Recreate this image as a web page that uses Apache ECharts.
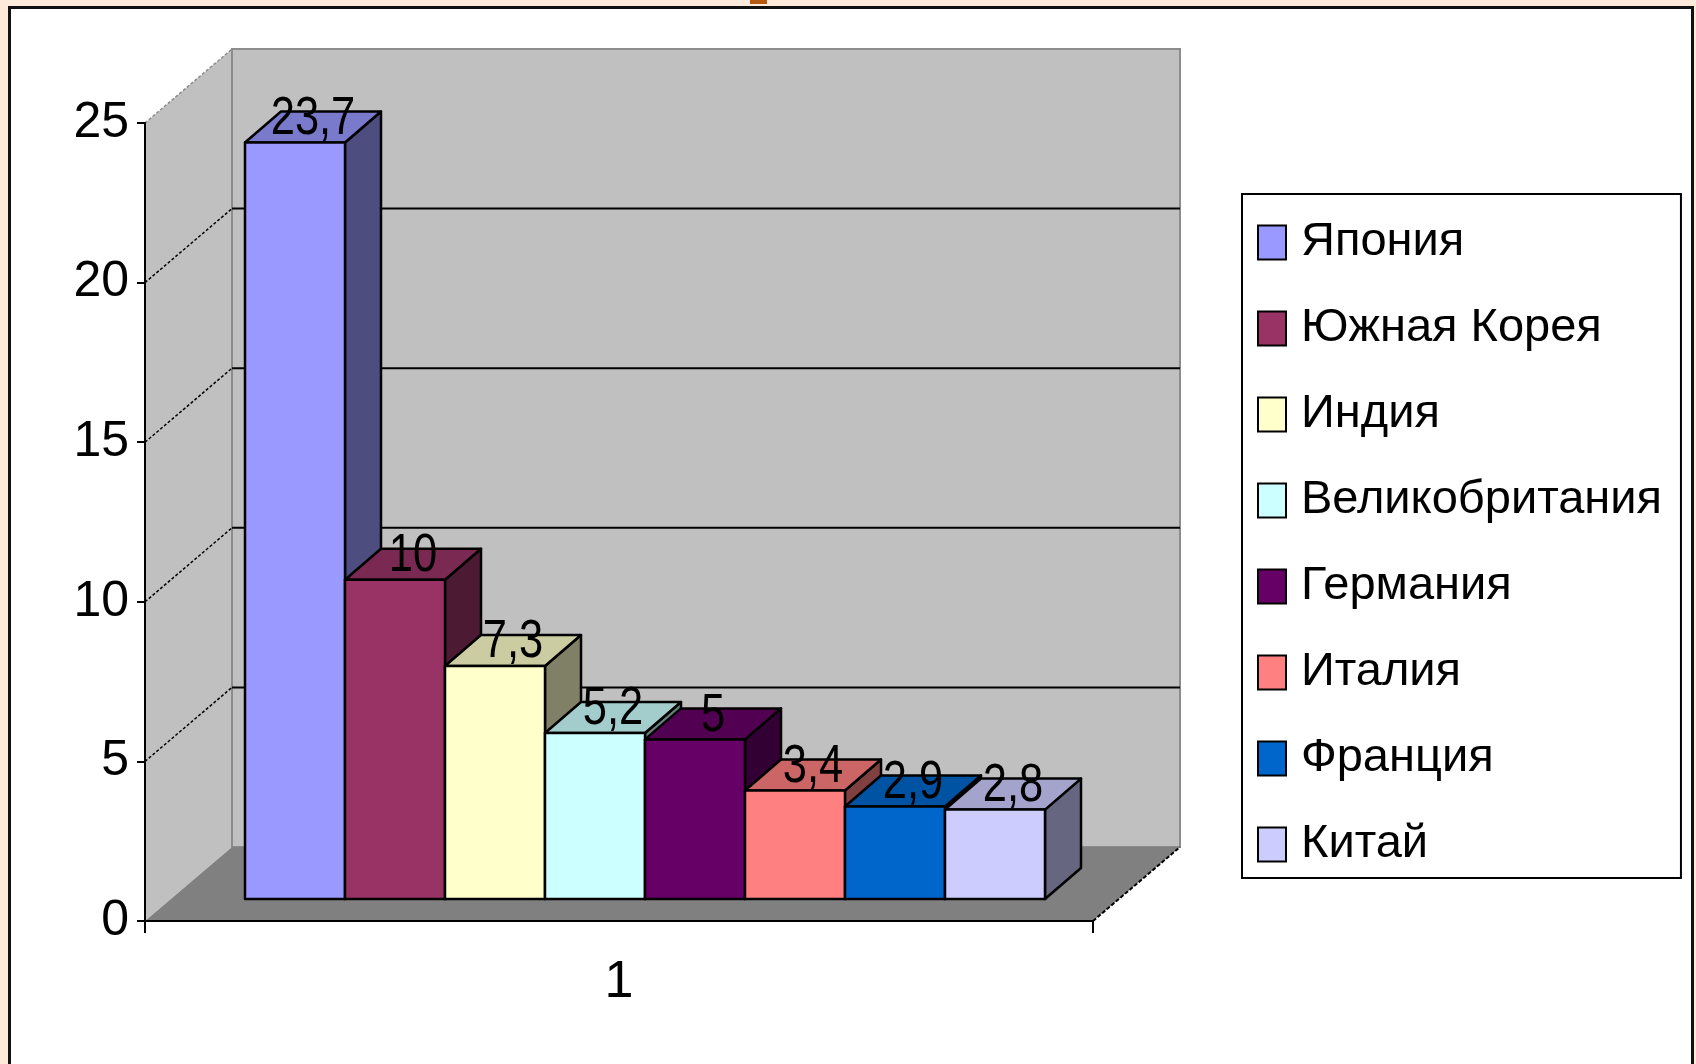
<!DOCTYPE html>
<html><head><meta charset="utf-8">
<script src="https://cdn.jsdelivr.net/npm/echarts@6/dist/echarts.min.js"></script>
<style>
html,body{margin:0;padding:0;background:#fdeadb;overflow:hidden;}
#frame{position:absolute;left:8px;top:6px;width:1680px;height:1070px;border:3px solid #111;background:#fff;}
#mark{position:absolute;left:750px;top:0;width:17px;height:4px;background:#b35a0e;}
#c{position:absolute;left:0;top:0;width:1696px;height:1064px;}
</style>
</head><body>
<div id="mark"></div><div id="frame"></div><div id="c"></div>
<script>
// ---- data ----
const categories = ['1'];
const countries = ['Япония','Южная Корея','Индия','Великобритания','Германия','Италия','Франция','Китай'];
const values = [23.7, 10, 7.3, 5.2, 5, 3.4, 2.9, 2.8];
const yTicks = [0, 5, 10, 15, 20, 25];
const colors = ['#9999FF','#993366','#FFFFCC','#CCFFFF','#660066','#FF8080','#0066CC','#CCCCFF'];

// ---- styling / 3D geometry ----
const FONT = '"Liberation Sans",Arial,sans-serif';
const WALL_D = [87, -74];     // depth offset of back wall
const BAR_OFF = [26, -22];    // bar plane offset from front plane
const BAR_D = [36, -31];      // bar depth
const GROUP_FRAC = 800 / 948; // share of category band used by bars
const N = countries.length;
const yMin = yTicks[0], yMax = yTicks[yTicks.length - 1];

function shade(hex, f) {
  const n = parseInt(hex.slice(1), 16);
  const r = Math.round(((n >> 16) & 255) * f), g = Math.round(((n >> 8) & 255) * f), b = Math.round((n & 255) * f);
  return 'rgb(' + r + ',' + g + ',' + b + ')';
}

function geom(api, i) {
  const c = api.coord([api.value(0), api.value(1)]);
  const base = api.coord([api.value(0), 0]);
  const band = api.size([1, 0])[0];
  const w = band * GROUP_FRAC / N;
  const x = c[0] - band * GROUP_FRAC / 2 + i * w + BAR_OFF[0];
  return {x: x, w: w, yTop: c[1] + BAR_OFF[1], yBase: base[1] + BAR_OFF[1]};
}

function barRender(i) {
  return function (params, api) {
    const g = geom(api, i), dx = BAR_D[0], dy = BAR_D[1];
    const col = colors[i];
    const st = {stroke: '#000', lineWidth: 2.5, lineJoin: 'round'};
    return {type: 'group', children: [
      {type: 'polygon', shape: {points: [[g.x + g.w, g.yTop], [g.x + g.w + dx, g.yTop + dy], [g.x + g.w + dx, g.yBase + dy], [g.x + g.w, g.yBase]]},
        style: Object.assign({fill: shade(col, 0.5)}, st)},
      {type: 'polygon', shape: {points: [[g.x, g.yTop], [g.x + dx, g.yTop + dy], [g.x + g.w + dx, g.yTop + dy], [g.x + g.w, g.yTop]]},
        style: Object.assign({fill: shade(col, 0.8)}, st)},
      {type: 'rect', shape: {x: g.x, y: g.yTop, width: g.w, height: g.yBase - g.yTop},
        style: Object.assign({fill: col}, st)}
    ]};
  };
}

function labelRender(i) {
  return function (params, api) {
    const g = geom(api, i);
    return {type: 'text', x: g.x + g.w / 2 + BAR_D[0] / 2, y: g.yTop + 3, scaleX: 0.82,
      style: {text: String(values[i]).replace('.', ','), x: 0, y: 0,
        align: 'center', verticalAlign: 'bottom', font: '53px ' + FONT, fill: '#000'}};
  };
}

function wallRender(params, api) {
  const band = api.size([1, 0])[0];
  const x0 = api.coord([0, 0])[0] - band / 2, x1 = x0 + band;
  const yv = v => api.coord([0, v])[1];
  const y0 = yv(yMin), yT = yv(yMax), DX = WALL_D[0], DY = WALL_D[1];
  const ch = [
    {type: 'polygon', shape: {points: [[x0, yT], [x0 + DX, yT + DY], [x0 + DX, y0 + DY], [x0, y0]]}, style: {fill: '#c0c0c0'}},
    {type: 'rect', shape: {x: x0 + DX, y: yT + DY, width: band, height: y0 - yT}, style: {fill: '#c0c0c0', stroke: '#8c8c8c', lineWidth: 2}},
    {type: 'polygon', shape: {points: [[x0, y0], [x1, y0], [x1 + DX, y0 + DY], [x0 + DX, y0 + DY]]}, style: {fill: '#808080'}},
    {type: 'line', shape: {x1: x0, y1: yT, x2: x0 + DX, y2: yT + DY}, style: {stroke: '#8c8c8c', lineWidth: 1.5, lineDash: [3, 2]}},
    {type: 'line', shape: {x1: x1, y1: y0, x2: x1 + DX, y2: y0 + DY}, style: {stroke: '#000', lineWidth: 2, lineDash: [4, 2]}}
  ];
  yTicks.forEach(t => {
    if (t === yMin || t === yMax) return;
    const y = yv(t);
    ch.push({type: 'line', shape: {x1: x0 + DX, y1: y + DY, x2: x1 + DX, y2: y + DY}, style: {stroke: '#000', lineWidth: 2}});
    ch.push({type: 'line', shape: {x1: x0, y1: y, x2: x0 + DX, y2: y + DY}, style: {stroke: '#000', lineWidth: 1.5, lineDash: [3, 2]}});
  });
  return {type: 'group', children: ch};
}

const series = [{type: 'custom', name: '__walls', z: 1, silent: true, clip: false, renderItem: wallRender, data: [[0, yMax]]}];
countries.forEach((name, i) => {
  series.push({type: 'custom', name: name, z: 2, clip: false, itemStyle: {color: colors[i]}, renderItem: barRender(i), data: [[0, values[i]]]});
});
countries.forEach((name, i) => {
  series.push({type: 'custom', name: name, z: 3, clip: false, silent: true, itemStyle: {color: colors[i]}, renderItem: labelRender(i), data: [[0, values[i]]]});
});

const chart = echarts.init(document.getElementById('c'), null, {renderer: 'canvas'});
chart.setOption({
  backgroundColor: 'transparent',
  animation: false,
  grid: {left: 145, right: 603, top: 123, bottom: 143},
  xAxis: {type: 'category', data: categories, z: 5,
    axisLine: {lineStyle: {color: '#000', width: 2}},
    axisTick: {show: true, length: 12, lineStyle: {color: '#000', width: 2}},
    axisLabel: {fontSize: 52, fontFamily: FONT, color: '#000', margin: 36}},
  yAxis: {type: 'value', min: yMin, max: yMax, interval: yTicks[1] - yTicks[0], z: 5,
    axisLine: {show: true, lineStyle: {color: '#000', width: 2}},
    axisTick: {show: true, length: 8, lineStyle: {color: '#000', width: 2}},
    splitLine: {show: false},
    axisLabel: {fontSize: 50, fontFamily: FONT, color: '#000', margin: 16}},
  legend: {orient: 'vertical', left: 1242, top: 194, padding: [25, 19, 10, 15],
    itemWidth: 28, itemHeight: 34, itemGap: 39, icon: 'rect',
    backgroundColor: '#fff', borderColor: '#000', borderWidth: 2,
    itemStyle: {borderColor: '#000', borderWidth: 2},
    textStyle: {fontSize: 47, fontFamily: FONT, color: '#000', padding: [0, 0, 0, 10]},
    data: countries},
  series: series
});
</script>
</body></html>
